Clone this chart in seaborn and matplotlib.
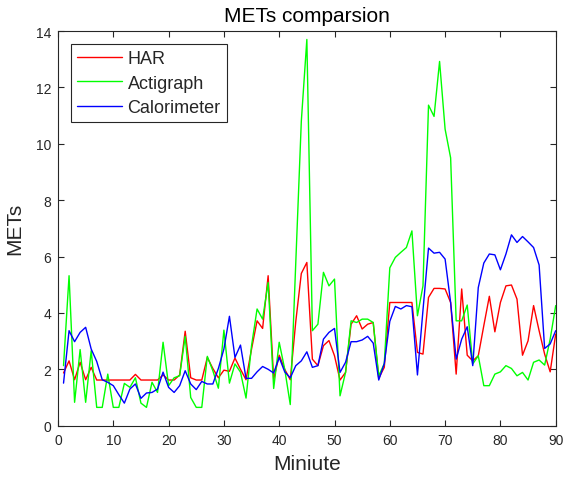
import matplotlib
matplotlib.use("Agg")
import matplotlib.pyplot as plt
import numpy as np
import pandas as pd
import seaborn as sns

# ----------------------------------------------------------------------------
# Data (one value per minute 1..90)
# ----------------------------------------------------------------------------

minutes = list(range(1, 91))

har = [
    1.87, 2.30, 1.63, 2.25, 1.63, 2.07, 1.62, 1.62, 1.62, 1.62,
    1.62, 1.62, 1.62, 1.82, 1.62, 1.62, 1.62, 1.62, 1.80, 1.62,
    1.62, 1.80, 3.35, 1.70, 1.62, 1.62, 2.42, 2.03, 1.70, 1.97,
    1.93, 2.40, 2.00, 1.63, 2.72, 3.72, 3.45, 5.32, 1.65, 2.50,
    2.00, 1.63, 3.70, 5.40, 5.79, 2.36, 2.13, 2.84, 3.02, 2.48,
    1.62, 1.89, 3.60, 3.90, 3.43, 3.60, 3.66, 1.68, 2.07, 4.37,
    4.37, 4.37, 4.37, 4.37, 2.60, 2.54, 4.55, 4.87, 4.87, 4.85,
    4.37, 1.83, 4.85, 2.50, 2.30, 2.48, 3.55, 4.59, 3.33, 4.37,
    4.96, 4.99, 4.49, 2.50, 3.01, 4.26, 3.37, 2.54, 1.91, 3.25,
]

actigraph = [
    2.13, 5.32, 0.83, 2.70, 0.83, 2.66, 0.65, 0.65, 1.83, 0.65,
    0.65, 1.50, 1.36, 1.70, 0.80, 0.65, 1.54, 1.18, 2.96, 1.42,
    1.70, 1.77, 3.17, 1.00, 0.65, 0.65, 2.46, 1.95, 1.33, 3.39,
    1.51, 2.19, 1.90, 0.98, 2.84, 4.14, 3.78, 5.08, 1.32, 2.96,
    2.00, 0.75, 5.80, 10.80, 13.70, 3.37, 3.60, 5.44, 4.96, 5.20,
    1.06, 1.89, 3.72, 3.66, 3.78, 3.78, 3.66, 1.77, 2.20, 5.60,
    5.97, 6.15, 6.32, 6.91, 3.90, 4.96, 11.37, 10.97, 12.92, 10.52,
    9.50, 3.72, 3.72, 4.28, 2.19, 2.48, 1.42, 1.42, 1.83, 1.91,
    2.13, 2.03, 1.77, 1.89, 1.62, 2.25, 2.33, 2.15, 3.07, 4.26,
]

calorimeter = [
    1.51, 3.37, 2.98, 3.31, 3.49, 2.72, 2.28, 1.63, 1.54, 1.42,
    1.10, 0.80, 1.30, 1.48, 0.97, 1.16, 1.18, 1.30, 1.90, 1.36,
    1.18, 1.42, 1.95, 1.48, 1.28, 1.57, 1.48, 1.48, 2.03, 2.72,
    3.88, 2.42, 2.86, 1.68, 1.68, 1.91, 2.10, 2.00, 1.87, 2.42,
    1.91, 1.70, 2.13, 2.30, 2.62, 2.07, 2.13, 3.07, 3.31, 3.45,
    1.89, 2.25, 2.98, 2.98, 3.04, 3.17, 2.93, 1.62, 2.20, 3.70,
    4.23, 4.14, 4.26, 4.22, 1.80, 4.10, 6.30, 6.12, 6.15, 5.91,
    4.37, 2.36, 3.07, 3.51, 2.13, 4.90, 5.77, 6.09, 6.06, 5.53,
    6.09, 6.77, 6.50, 6.71, 6.52, 6.32, 5.70, 2.74, 2.90, 3.37,
]

series_names = ["HAR", "Actigraph", "Calorimeter"]
series_colors = ["#ff0000", "#00ff00", "#0000ff"]

x_ticks = list(range(0, 91, 10))
y_ticks = list(range(0, 15, 2))

# ----------------------------------------------------------------------------
# Plot
# ----------------------------------------------------------------------------

df = pd.DataFrame({
    "Minute": minutes * 3,
    "METs": har + actigraph + calorimeter,
    "Source": np.repeat(series_names, len(minutes)),
})

sns.set_style("ticks")
plt.rcParams["font.family"] = ["Liberation Sans", "DejaVu Sans"]

axis_grey = "#262626"
fig = plt.figure(figsize=(5.65, 4.81), dpi=100)
ax = fig.add_axes([58 / 565, 1 - 426.7 / 481, (555.7 - 58) / 565, (426.7 - 32) / 481])

sns.lineplot(
    data=df, x="Minute", y="METs", hue="Source",
    hue_order=series_names, palette=dict(zip(series_names, series_colors)),
    linewidth=1.0, ax=ax, legend=True,
)

ax.set_xlim(0, 90)
ax.set_ylim(0, 14)
ax.set_xticks(x_ticks)
ax.set_yticks(y_ticks)
ax.tick_params(direction="in", top=True, right=True, length=4, width=0.8,
               labelsize=10, colors=axis_grey, labelcolor=axis_grey, pad=5)
for sp in ax.spines.values():
    sp.set_visible(True)
    sp.set_color(axis_grey)
    sp.set_linewidth(0.8)

ax.set_xlabel("Miniute", fontsize=15, color=axis_grey, labelpad=5)
ax.set_ylabel("METs", fontsize=15, color=axis_grey, labelpad=8)
ax.set_title("METs comparsion", fontsize=15, color="black", pad=7)

leg = ax.legend(
    loc="upper left", fontsize=13, frameon=True, fancybox=False,
    edgecolor=axis_grey, framealpha=1, handlelength=2.5, handletextpad=0.3,
    borderpad=0.35, labelspacing=0.42, borderaxespad=0.7,
)
leg.get_frame().set_linewidth(0.8)
for h in leg.get_lines():
    h.set_linewidth(1.0)

fig.savefig("out.png", dpi=100)
